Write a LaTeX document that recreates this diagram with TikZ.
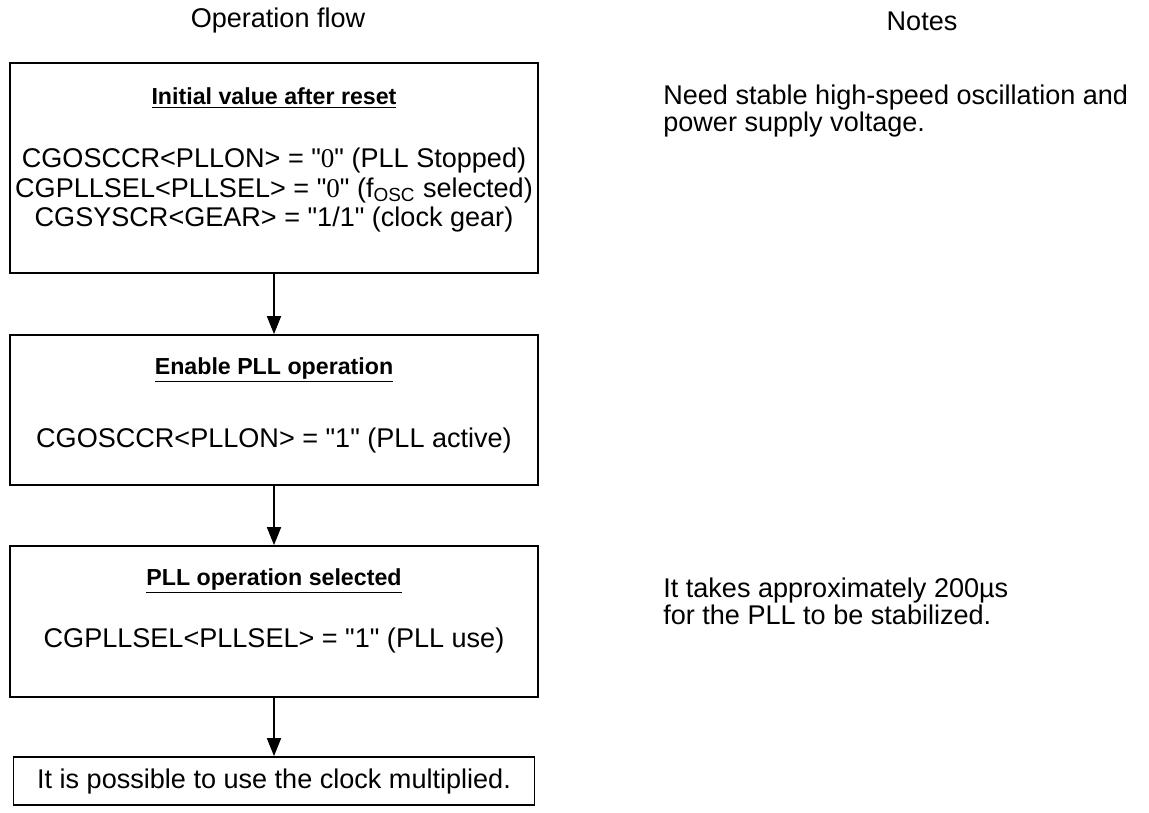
\documentclass[tikz,border=0pt]{standalone}
\usepackage{fontspec}
\newfontfamily\arialfont{Liberation Sans}
\newfontfamily\zerofont{Liberation Serif}
\usetikzlibrary{arrows.meta,positioning}
\tikzset{
  flowbox/.style={draw, line width=1pt, minimum width=10.56cm, inner sep=0pt},
  boxtitle/.style={font=\arialfont\fontsize{13.2}{15}\selectfont\bfseries, inner sep=0pt},
  boxtext/.style={align=center, inner sep=0pt, font=\arialfont\fontsize{15.4}{16.6}\selectfont},
  flowarrow/.style={-{Triangle[length=0.36cm,width=0.28cm]}, line width=1pt},
  header/.style={inner sep=0pt},
  note/.style={anchor=west, align=left, inner sep=0pt}
}
\begin{document}
\begin{tikzpicture}[x=0.02cm, y=-0.02cm, font=\arialfont\fontsize{15.4}{15.2}\selectfont]
\useasboundingbox (0,0) rectangle (1149,812);

% Titulos de las columnas
\node[header] (flowhead) at (278,21) {Operation flow};
\node[header] (notehead) at (922,21) {Notes};

% Valores iniciales tras el reset
\node[flowbox, minimum height=4.2cm] (reset) at (274,168) {};
\node[boxtitle] (resettitle) at (274,98) {\underline{Initial value after reset}};
\node[boxtext] (resettext) at (274,190) {CGOSCCR<PLLON> = "{\zerofont 0}" (PLL Stopped)\\
  CGPLLSEL<PLLSEL> = "{\zerofont 0}" (f\textsubscript{OSC} selected)\\
  CGSYSCR<GEAR> = "1/1" (clock gear)};

% Activar el PLL
\node[flowbox, minimum height=3cm] (enable) at (274,410) {};
\node[boxtitle] (enabletitle) at (274,370) {\underline{Enable PLL operation}};
\node[boxtext] (enabletext) at (274,440) {CGOSCCR<PLLON> = "1" (PLL active)};

% Seleccionar el PLL
\node[flowbox, minimum height=3.02cm] (select) at (274,621.5) {};
\node[boxtitle] (selecttitle) at (274,581) {\underline{PLL operation selected}};
\node[boxtext] (selecttext) at (274,640) {CGPLLSEL<PLLSEL> = "1" (PLL use)};

% Resultado final
\node[flowbox, boxtext, minimum width=10.42cm, minimum height=0.96cm] (done) at (274,781) {It is possible to use the clock multiplied.};

% Flechas entre pasos
\draw[flowarrow] (reset) -- (enable);
\draw[flowarrow] (enable) -- (select);
\draw[flowarrow] (select) -- (done);

% Notas a la derecha
\node[note] (note1) at (663,111) {Need stable high-speed oscillation and\\power supply voltage.};
\node[note] (note2) at (663,601) {It takes approximately 200µs\\for the PLL to be stabilized.};
\end{tikzpicture}
\end{document}
